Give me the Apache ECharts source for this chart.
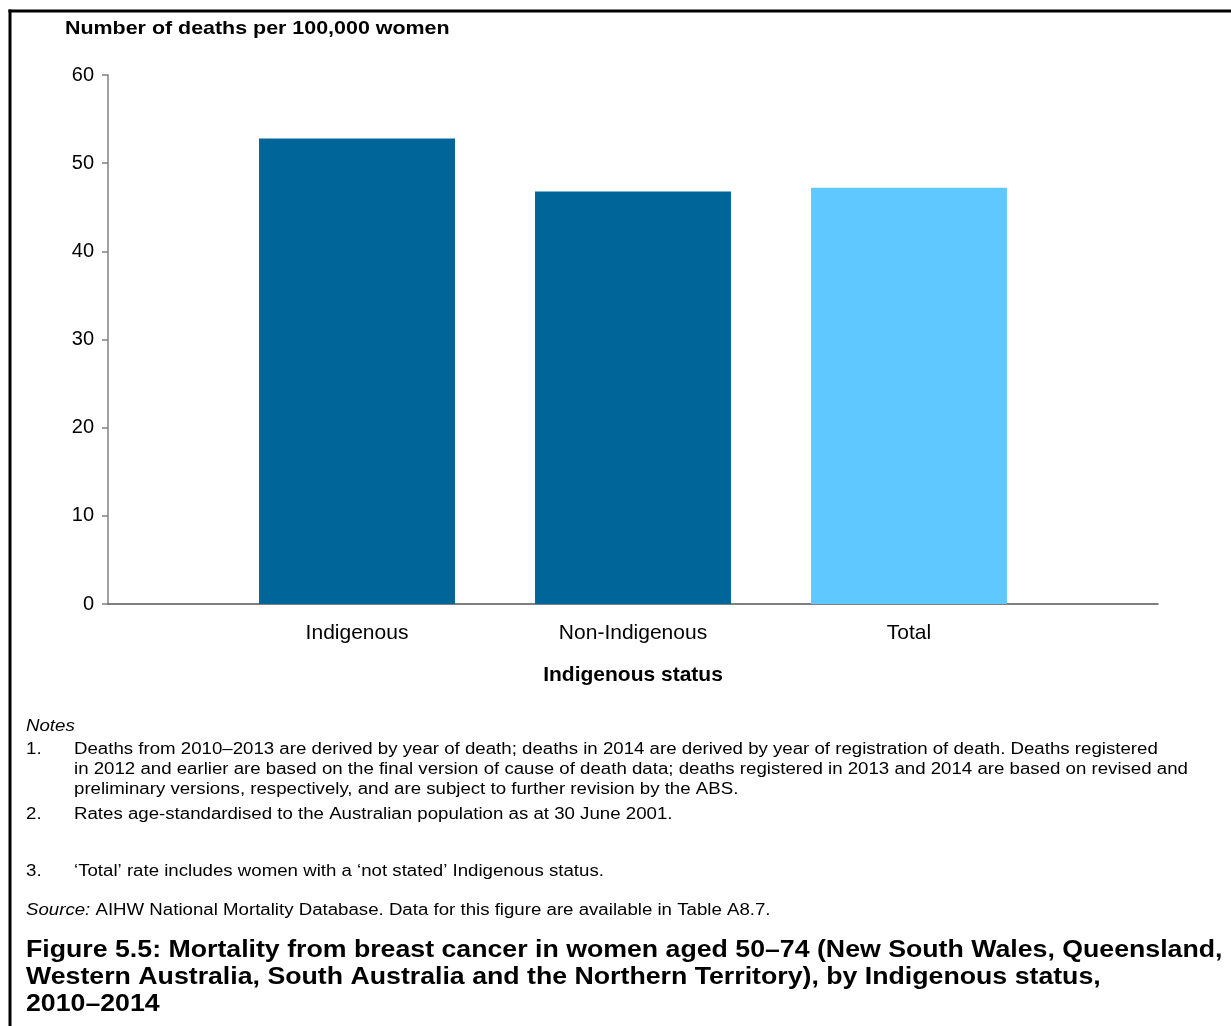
<!DOCTYPE html>
<html>
<head>
<meta charset="utf-8">
<script src="https://cdn.jsdelivr.net/npm/echarts@6/dist/echarts.min.js"></script>
<style>
html,body{margin:0;padding:0;background:#fff;}
#chart{width:1231px;height:1026px;}
</style>
</head>
<body>
<div id="chart"></div>
<script>
const categories = ['Indigenous', 'Non-Indigenous', 'Total'];
const deathRates = [52.8, 46.8, 47.2];
const barColors = ['#006699', '#006699', '#5FC9FF'];
const yTicks = { min: 0, max: 60, interval: 10 };
const yAxisTitle = 'Number of deaths per 100,000 women';
const xAxisTitle = 'Indigenous status';
const notesHeading = 'Notes';
const note1Lines = [
  'Deaths from 2010\u20132013 are derived by year of death; deaths in 2014 are derived by year of registration of death. Deaths registered',
  'in 2012 and earlier are based on the final version of cause of death data; deaths registered in 2013 and 2014 are based on revised and',
  'preliminary versions, respectively, and are subject to further revision by the ABS.'
];
const note2 = 'Rates age-standardised to the Australian population as at 30 June 2001.';
const note3 = '\u2018Total\u2019 rate includes women with a \u2018not stated\u2019 Indigenous status.';
const sourceText = 'AIHW National Mortality Database. Data for this figure are available in Table A8.7.';
const captionLines = [
  'Figure 5.5: Mortality from breast cancer in women aged 50\u201374 (New South Wales, Queensland,',
  'Western Australia, South Australia and the Northern Territory), by Indigenous status,',
  '2010\u20132014'
];

const FONT = "'Liberation Sans', Arial, Helvetica, sans-serif";
const chart = echarts.init(document.getElementById('chart'), null, { renderer: 'canvas' });

const SX = 1.166;
const noteFont = '16px ' + FONT;
function txt(x, y, text, font, sx) {
  return {
    type: 'text', x: x, y: y, scaleX: sx || SX,
    style: { text: text, font: font, fill: '#000', verticalAlign: 'middle' }
  };
}
const graphics = [
  { type: 'line', shape: { x1: 10, y1: 9.5, x2: 10, y2: 1026 }, style: { stroke: '#000', lineWidth: 3 } },
  { type: 'line', shape: { x1: 8.5, y1: 11, x2: 1231, y2: 11 }, style: { stroke: '#000', lineWidth: 3 } },
  txt(65, 29, yAxisTitle, 'bold 18.5px ' + FONT, 1.158),
  txt(26, 727, notesHeading, 'italic ' + noteFont),
  txt(26, 750, '1.', noteFont)
];
note1Lines.forEach((t, i) => graphics.push(txt(74, 750 + i * 20, t, noteFont)));
graphics.push(txt(26, 815, '2.', noteFont));
graphics.push(txt(74, 815, note2, noteFont));
graphics.push(txt(26, 872, '3.', noteFont));
graphics.push(txt(74, 872, note3, noteFont));
graphics.push({
  type: 'text', x: 26, y: 911, scaleX: SX,
  style: {
    text: '{i|Source:} ' + sourceText,
    font: noteFont, fill: '#000', verticalAlign: 'middle',
    rich: { i: { fontStyle: 'italic', fontSize: 16, fontFamily: FONT } }
  }
});
captionLines.forEach((t, i) => graphics.push(txt(26, 951 + i * 27, t, 'bold 23px ' + FONT, 1.161)));

chart.setOption({
  backgroundColor: '#fff',
  animation: false,
  grid: [
    { left: 219, right: 184, top: 75, bottom: 422 },
    { left: 108, right: 73, top: 75, bottom: 422 }
  ],
  xAxis: [
    {
      type: 'category', gridIndex: 0, data: categories,
      axisLine: { show: false }, axisTick: { show: false },
      axisLabel: { fontFamily: FONT, fontSize: 21, color: '#000', margin: 19 },
      name: xAxisTitle, nameLocation: 'middle', nameGap: 61,
      nameTextStyle: { fontFamily: FONT, fontWeight: 'bold', fontSize: 21, color: '#000' }
    },
    {
      type: 'category', gridIndex: 1, data: categories,
      axisLine: { show: true, lineStyle: { color: '#555', width: 1.5 } },
      axisTick: { show: false }, axisLabel: { show: false }, splitLine: { show: false }
    }
  ],
  yAxis: [
    {
      type: 'value', gridIndex: 0, min: yTicks.min, max: yTicks.max, interval: yTicks.interval,
      offset: 111,
      axisLine: { show: true, lineStyle: { color: '#808080', width: 1.5 } },
      axisTick: { show: true, length: 6, lineStyle: { color: '#808080', width: 1.5 } },
      axisLabel: { fontFamily: FONT, fontSize: 20, color: '#000', margin: 14 },
      splitLine: { show: false }
    },
    {
      type: 'value', gridIndex: 1, min: yTicks.min, max: yTicks.max, show: false
    }
  ],
  series: [{
    type: 'bar', xAxisIndex: 0, yAxisIndex: 0,
    data: deathRates,
    barCategoryGap: '29%',
    itemStyle: { color: (p) => barColors[p.dataIndex] }
  }],
  graphic: graphics
});
</script>
</body>
</html>
